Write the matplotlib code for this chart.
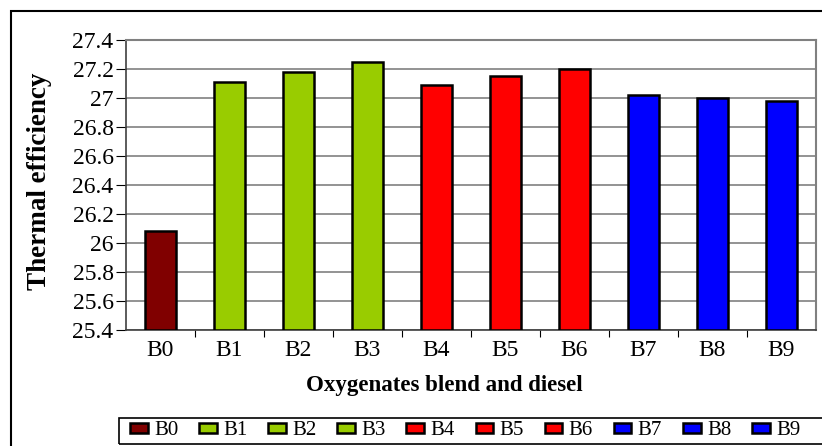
import matplotlib
matplotlib.use("Agg")
import matplotlib.pyplot as plt
from matplotlib.patches import Rectangle, Patch

categories = ["B0", "B1", "B2", "B3", "B4", "B5", "B6", "B7", "B8", "B9"]
values = [26.08, 27.11, 27.18, 27.25, 27.09, 27.15, 27.20, 27.02, 27.00, 26.98]
colors = ["#800000", "#99CC00", "#99CC00", "#99CC00", "#FF0000", "#FF0000",
          "#FF0000", "#0000FF", "#0000FF", "#0000FF"]
yticks = [25.4, 25.6, 25.8, 26.0, 26.2, 26.4, 26.6, 26.8, 27.0, 27.2, 27.4]
ytick_labels = ["25.4", "25.6", "25.8", "26", "26.2", "26.4", "26.6", "26.8", "27", "27.2", "27.4"]

plt.rcParams['font.family'] = ['Liberation Serif', 'DejaVu Serif']

W, H = 822, 446
fig = plt.figure(figsize=(W / 100, H / 100), dpi=100)

# outer chart frame
fig.patches.append(Rectangle((11 / W, -0.05), 1.2, 1 - 11 / H + 0.05,
                             transform=fig.transFigure, fill=False,
                             edgecolor="black", linewidth=1.5, clip_on=False))
# legend frame (extends past the right edge, as in the reference)
fig.patches.append(Rectangle((119 / W, 1 - 444 / H), 1.0, 26 / H,
                             transform=fig.transFigure, fill=False,
                             edgecolor="black", linewidth=1.2, clip_on=False))

ax = fig.add_axes([126 / W, 1 - 330 / H, (816 - 126) / W, (330 - 40) / H])
x = list(range(len(categories)))
bars = ax.bar(x, [v - 25.4 for v in values], bottom=25.4, width=0.46,
              color=colors, edgecolor="black", linewidth=1.8, zorder=3)
ax.set_xlim(-0.5, len(categories) - 0.5)
ax.set_ylim(25.4, 27.4)
ax.set_yticks(yticks)
ax.set_yticklabels(ytick_labels)
ax.yaxis.grid(True, color="#808080", linewidth=1.2, zorder=0)
ax.set_axisbelow(True)

ax.set_xticks([i + 0.5 for i in range(len(categories) - 1)])
ax.set_xticklabels([])
ax.set_xticks(x, minor=True)
ax.set_xticklabels(categories, minor=True)
ax.tick_params(axis="x", which="minor", length=0, pad=7, labelsize=17)
ax.tick_params(axis="x", which="major", length=5, direction="out", color="black")
ax.tick_params(axis="y", length=7, direction="out", labelsize=17, pad=2)

for side in ["top", "right"]:
    ax.spines[side].set_color("#808080")
    ax.spines[side].set_linewidth(1.5)
for side in ["left", "bottom"]:
    ax.spines[side].set_color("#404040")
    ax.spines[side].set_linewidth(1.2)

fig.text(40 / W, 1 - 181 / H, "Thermal efficiency", rotation=90,
         ha="center", va="center", fontsize=19.5, fontweight="bold")
fig.text(444 / W, 1 - 386 / H, "Oxygenates blend and diesel",
         ha="center", va="center", fontsize=16.5, fontweight="bold")

handles = [Patch(facecolor=c, edgecolor="black", linewidth=1.8) for c in colors]
leg = fig.legend(handles, categories, loc="upper left",
                 bbox_to_anchor=(127 / W, 1 - 418 / H), ncol=10,
                 fontsize=15, frameon=False,
                 handlelength=0.85, handleheight=0.35, handletextpad=0.3,
                 columnspacing=1.0, borderpad=0.15, borderaxespad=0)

fig.savefig("out.png", dpi=100)
